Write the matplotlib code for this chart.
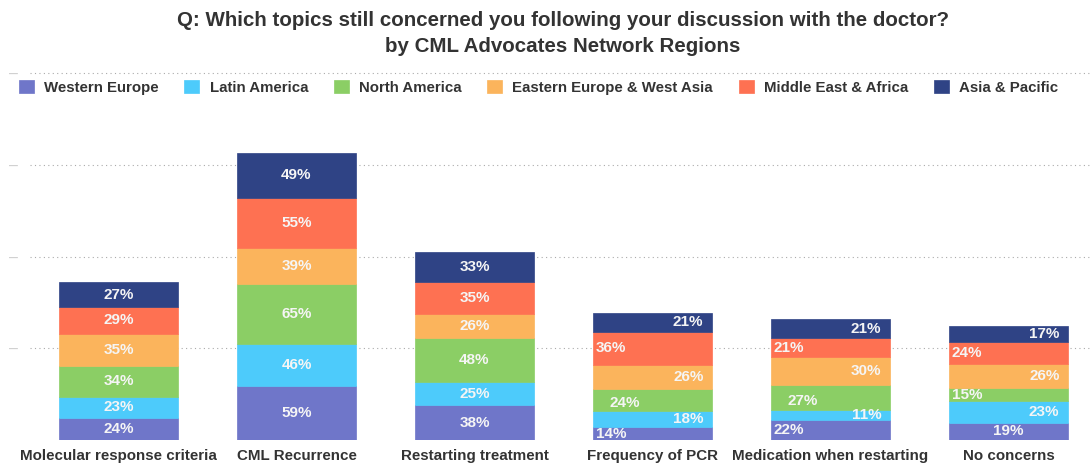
import matplotlib
matplotlib.use("Agg")
import matplotlib.pyplot as plt
import numpy as np

plt.rcParams['font.family'] = ['Liberation Sans', 'DejaVu Sans']

# data
topics = ["Molecular response criteria", "CML Recurrence", "Restarting treatment",
          "Frequency of PCR", "Medication when restarting", "No concerns"]
regions = ["Western Europe", "Latin America", "North America",
           "Eastern Europe & West Asia", "Middle East & Africa", "Asia & Pacific"]
western_europe = [24, 59, 38, 14, 22, 19]
latin_america = [23, 46, 25, 18, 11, 23]
north_america = [34, 65, 48, 24, 27, 15]
eastern_europe = [35, 39, 26, 26, 30, 26]
middle_east = [29, 55, 35, 36, 21, 24]
asia_pacific = [27, 49, 33, 21, 21, 17]

series = [western_europe, latin_america, north_america,
          eastern_europe, middle_east, asia_pacific]
colors = ["#6f76c9", "#4dcbfb", "#8bce65", "#fbb45c", "#fe7152", "#2f4385"]

# where each value label sits inside its segment (c=centre, l=left, r=right, L=indented left)
label_pos = ["cccccc", "cccccc", "cccccc", "lrLrlr", "lrLrlr", "crlrlr"]

fig = plt.figure(figsize=(10.91, 4.63), dpi=100)
ax = fig.add_axes([29.5 / 1091, 23 / 463, 1068 / 1091, 405 * 0.917 / 463])

x = np.arange(len(topics))
width = 0.663
bottom = np.zeros(len(topics))
for i, (vals, col) in enumerate(zip(series, colors)):
    vals = np.array(vals)
    ax.bar(x, vals, width, bottom=bottom, color=col, label=regions[i], zorder=3,
           edgecolor=col, linewidth=0.5)
    for j, v in enumerate(vals):
        pos = label_pos[j][i]
        yc = bottom[j] + v / 2
        if pos == "c":
            xx, ha = x[j], "center"
        elif pos == "l":
            xx, ha = x[j] - width / 2 + 0.012, "left"
        elif pos == "L":
            xx, ha = x[j] - width / 2 + 0.09, "left"
            yc -= 4
        else:
            xx, ha = x[j] + width / 2 - 0.045, "right"
        ax.text(xx, yc, f"{v}%", ha=ha, va="center", color="#f5f5f5",
                fontsize=11, fontweight="bold", zorder=4)
    bottom += vals

ax.set_xlim(-0.5, 5.5)
ax.set_ylim(0, 405)
ax.set_yticks([100, 200, 300, 400])
ax.set_yticklabels(["\u2013"] * 4, color="#cfcfcf", fontsize=11.5)
ax.tick_params(axis="y", length=0, pad=8.3)
ax.yaxis.grid(True, linestyle=(0, (1, 3)), color="#aaaaaa", linewidth=0.8, zorder=0)
ax.set_xticks(x)
ax.set_xticklabels(topics, fontsize=10.9, fontweight="bold", color="#333333")
ax.tick_params(axis="x", length=0, pad=6.5)
for s in ax.spines.values():
    s.set_visible(False)

fig.legend(loc="upper left", bbox_to_anchor=(19 / 1091, 1 - 80 / 463), ncol=6,
           frameon=False, prop={"size": 10.8, "weight": "bold"},
           handlelength=1.0, handleheight=1.0, handletextpad=0.67,
           columnspacing=1.72, borderpad=0, borderaxespad=0, labelcolor="#333333")

fig.text(563 / 1091, 1 - 20.5 / 463,
         "Q: Which topics still concerned you following your discussion with the doctor?",
         ha="center", va="center", fontsize=14.8, fontweight="bold", color="#333333")
fig.text(563 / 1091, 1 - 46 / 463, "by CML Advocates Network Regions",
         ha="center", va="center", fontsize=14.8, fontweight="bold", color="#333333")

fig.savefig("out.png", dpi=100)
